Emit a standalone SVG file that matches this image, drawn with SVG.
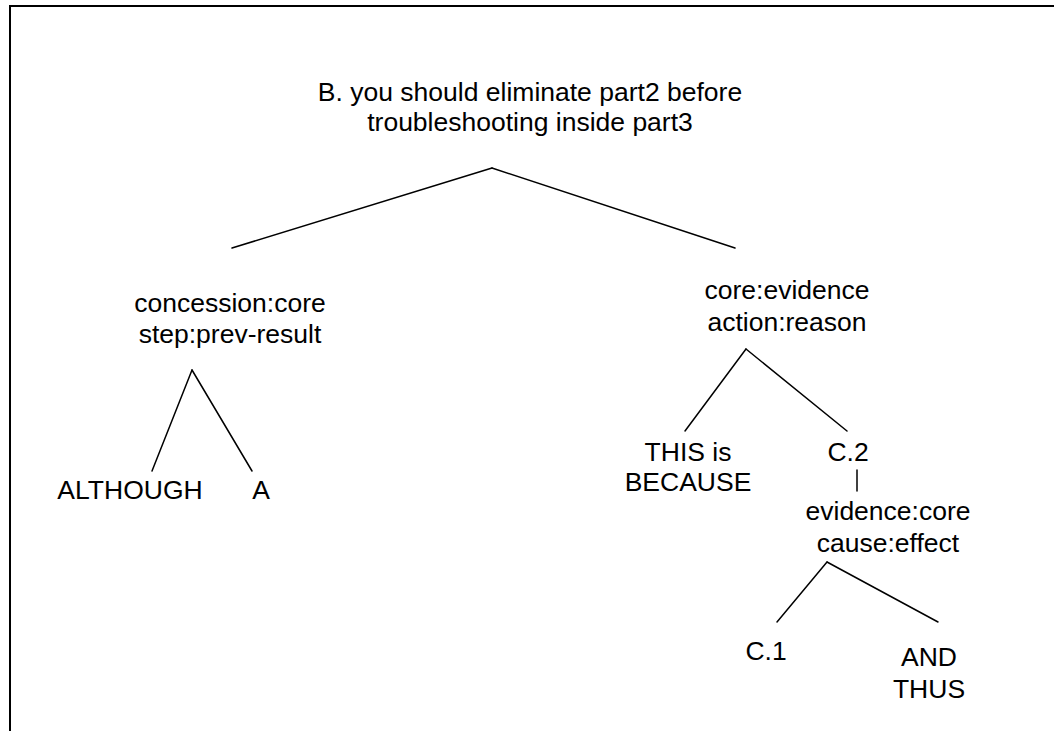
<svg xmlns="http://www.w3.org/2000/svg" width="1054" height="731" viewBox="0 0 1054 731">
  <style>
    .lbl { font-family: "Liberation Sans", Arial, sans-serif; font-size: 26.5px; fill: #000; text-anchor: middle; }
    .edge { stroke: #000; stroke-width: 1.5; fill: none; stroke-linecap: round; }
    .frame { stroke: #000; stroke-width: 2; fill: none; }
  </style>
  <rect width="1054" height="731" fill="#fff"/>
  <!-- open frame: top and left rules -->
  <path class="frame" d="M10,731 V6 H1054"/>

  <g id="connectors">
    <line class="edge" x1="492" y1="168" x2="232" y2="248"/>
    <line class="edge" x1="492" y1="168" x2="735" y2="248"/>
    <line class="edge" x1="192" y1="370" x2="152" y2="471"/>
    <line class="edge" x1="192" y1="370" x2="252" y2="471"/>
    <line class="edge" x1="746" y1="349" x2="685" y2="431"/>
    <line class="edge" x1="746" y1="349" x2="847" y2="431"/>
    <line class="edge" x1="857" y1="470" x2="857" y2="491"/>
    <line class="edge" x1="827" y1="562" x2="777" y2="622"/>
    <line class="edge" x1="827" y1="562" x2="938" y2="622"/>
  </g>

  <g id="root">
    <text class="lbl" x="530" y="101">B. you should eliminate part2 before</text>
    <text class="lbl" x="530" y="131">troubleshooting inside part3</text>
  </g>
  <g id="concession">
    <text class="lbl" x="230" y="312">concession:core</text>
    <text class="lbl" x="230" y="343">step:prev-result</text>
  </g>
  <g id="although">
    <text class="lbl" x="130" y="499">ALTHOUGH</text>
  </g>
  <g id="a">
    <text class="lbl" x="261" y="499">A</text>
  </g>
  <g id="evidence">
    <text class="lbl" x="787" y="299">core:evidence</text>
    <text class="lbl" x="787" y="331">action:reason</text>
  </g>
  <g id="because">
    <text class="lbl" x="688" y="461">THIS is</text>
    <text class="lbl" x="688" y="491">BECAUSE</text>
  </g>
  <g id="c2">
    <text class="lbl" x="848" y="461">C.2</text>
  </g>
  <g id="cause">
    <text class="lbl" x="888" y="520">evidence:core</text>
    <text class="lbl" x="888" y="552">cause:effect</text>
  </g>
  <g id="c1">
    <text class="lbl" x="766" y="660">C.1</text>
  </g>
  <g id="andthus">
    <text class="lbl" x="929" y="666">AND</text>
    <text class="lbl" x="929" y="698">THUS</text>
  </g>
</svg>
